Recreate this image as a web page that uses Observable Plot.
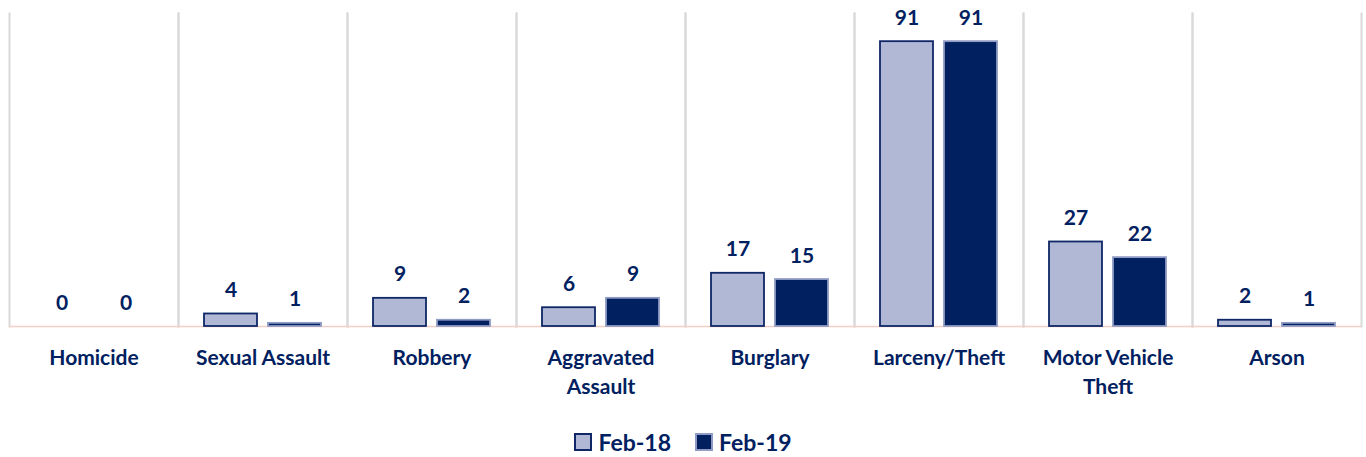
<!DOCTYPE html>
<html>
<head>
<meta charset="utf-8">
<script src="https://cdn.jsdelivr.net/npm/d3@7"></script>
<script src="https://cdn.jsdelivr.net/npm/@observablehq/plot@0.6"></script>
<style>
  html, body { margin: 0; padding: 0; background: #fff; }
  body { width: 1366px; height: 457px; overflow: hidden; font-family: Lato, "Open Sans", sans-serif; }
  #legend { display: flex; justify-content: center; align-items: center; height: 54px; color: #002060; font-weight: bold; font-size: 23px; }
  .item { display: flex; align-items: center; margin: 0 12px; }
  .sw { width: 14px; height: 14px; margin-right: 6px; border: 2px solid; }
</style>
</head>
<body>
<div id="chart"></div>
<div id="legend"></div>
<script>
const categories = ["Homicide", "Sexual Assault", "Robbery", "Aggravated Assault", "Burglary", "Larceny/Theft", "Motor Vehicle Theft", "Arson"];
const categoryLabels = ["Homicide", "Sexual Assault", "Robbery", "Aggravated\nAssault", "Burglary", "Larceny/Theft", "Motor Vehicle\nTheft", "Arson"];
const seriesNames = ["Feb-18", "Feb-19"];
const feb18 = [0, 4, 9, 6, 17, 91, 27, 2];
const feb19 = [0, 1, 2, 9, 15, 91, 22, 1];
const seriesFill = ["#b0b8d6", "#002060"];
const seriesStroke = ["#0f2766", "#8f9bc4"];
const textColor = "#002060";

const rows = [];
categories.forEach((c, i) => {
  rows.push({category: c, series: seriesNames[0], value: feb18[i]});
  rows.push({category: c, series: seriesNames[1], value: feb19[i]});
});

const barFor = (k) => Plot.barY(rows.filter(d => d.series === seriesNames[k] && d.value > 0), {
  fx: "category", x: "series", y: "value",
  fill: seriesFill[k], stroke: seriesStroke[k], strokeWidth: 1.8
});

const chart = Plot.plot({
  width: 1366,
  height: 415,
  marginLeft: 9,
  marginRight: 5,
  marginTop: 13,
  marginBottom: 89,
  style: {fontFamily: "Lato, 'Open Sans', sans-serif", background: "#fff"},
  fx: {domain: categories, padding: 0, axis: null, label: null},
  x: {domain: seriesNames, paddingInner: 0.172, paddingOuter: 0.406, axis: null},
  y: {domain: [0, 100], axis: null},
  marks: [
    Plot.frame({anchor: "left", stroke: "#d9d9d9", strokeWidth: 2}),
    Plot.frame({anchor: "right", stroke: "#d9d9d9", strokeWidth: 2}),
    Plot.ruleY([0], {stroke: "#f2cfc7", strokeWidth: 1.5}),
    barFor(0),
    barFor(1),
    Plot.text(rows, {
      fx: "category", x: "series", y: "value", text: d => String(d.value),
      dy: -17, lineAnchor: "bottom", fill: textColor, fontWeight: "bold", fontSize: 21
    }),
    Plot.axisFx({
      anchor: "bottom", tickSize: 0, tickPadding: 18, label: null,
      tickFormat: d => categoryLabels[categories.indexOf(d)],
      fill: textColor, fontWeight: "bold", fontSize: 21, lineHeight: 1.38
    })
  ]
});
document.getElementById("chart").appendChild(chart);

const legend = document.getElementById("legend");
seriesNames.forEach((s, k) => {
  const item = document.createElement("div");
  item.className = "item";
  const sw = document.createElement("span");
  sw.className = "sw";
  sw.style.background = seriesFill[k];
  sw.style.borderColor = seriesStroke[k];
  item.appendChild(sw);
  const t = document.createElement("span");
  t.textContent = s;
  item.appendChild(t);
  legend.appendChild(item);
});
</script>
</body>
</html>
